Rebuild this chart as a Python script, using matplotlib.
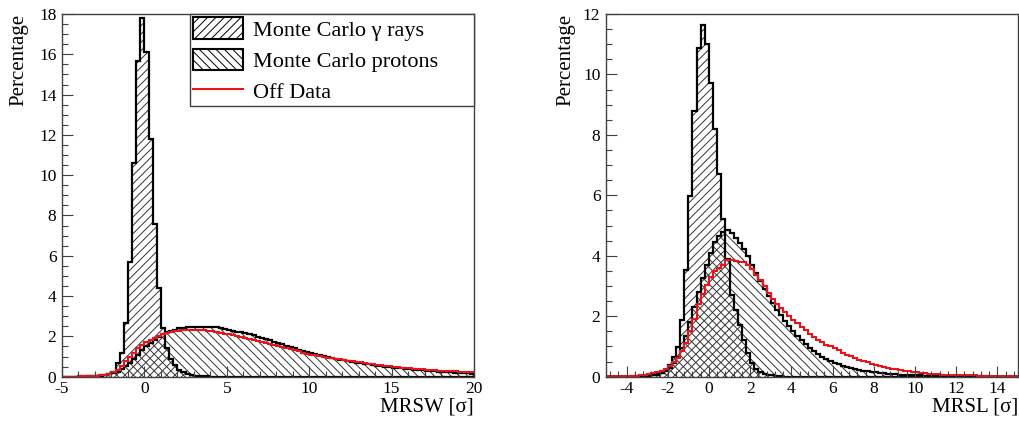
import numpy as np
import matplotlib
matplotlib.use("Agg")
import matplotlib.pyplot as plt
from matplotlib.patches import Patch
from matplotlib.lines import Line2D
from matplotlib.ticker import MultipleLocator

plt.rcParams["font.family"] = ["Liberation Serif", "DejaVu Serif"]
plt.rcParams["axes.unicode_minus"] = False
plt.rcParams["hatch.linewidth"] = 0.7

# MRSW histogram: bins of 0.25 from -5 to 20 (percent per bin)
mrsw_edges = np.arange(-5, 20.001, 0.25)
mrsw_gamma = [0, 0, 0, 0, 0, 0, 0.01, 0.01, 0.02, 0.03,
              0.06, 0.12, 0.25, 0.66, 1.16, 2.65, 5.7, 10.6, 15.65, 17.8,
              16.1, 11.8, 7.6, 4.4, 2.4, 1.4, 0.9, 0.58, 0.35, 0.22,
              0.13, 0.08, 0.05, 0.03, 0.02, 0.01, 0, 0, 0, 0,
              0, 0, 0, 0, 0, 0, 0, 0, 0, 0,
              0, 0, 0, 0, 0, 0, 0, 0, 0, 0,
              0, 0, 0, 0, 0, 0, 0, 0, 0, 0,
              0, 0, 0, 0, 0, 0, 0, 0, 0, 0,
              0, 0, 0, 0, 0, 0, 0, 0, 0, 0,
              0, 0, 0, 0, 0, 0, 0, 0, 0, 0]
mrsw_proton = [0, 0, 0, 0, 0.01, 0.01, 0.02, 0.03, 0.04, 0.06,
               0.09, 0.13, 0.18, 0.25, 0.38, 0.52, 0.7, 0.9, 1.1, 1.3,
               1.5, 1.68, 1.82, 1.98, 2.1, 2.2, 2.28, 2.34, 2.4, 2.43,
               2.45, 2.46, 2.47, 2.48, 2.47, 2.48, 2.49, 2.45, 2.42, 2.38,
               2.32, 2.28, 2.24, 2.2, 2.15, 2.1, 2.05, 1.99, 1.92, 1.86,
               1.8, 1.73, 1.66, 1.6, 1.53, 1.46, 1.4, 1.34, 1.28, 1.22,
               1.16, 1.11, 1.06, 1.01, 0.97, 0.93, 0.89, 0.85, 0.81, 0.77,
               0.73, 0.7, 0.67, 0.64, 0.61, 0.58, 0.55, 0.52, 0.5, 0.47,
               0.45, 0.43, 0.41, 0.39, 0.37, 0.35, 0.33, 0.31, 0.29, 0.28,
               0.26, 0.25, 0.23, 0.22, 0.21, 0.2, 0.18, 0.17, 0.16, 0.15]
mrsw_off = [0, 0, 0, 0, 0.01, 0.01, 0.02, 0.03, 0.04, 0.06,
            0.09, 0.14, 0.22, 0.35, 0.55, 0.78, 1.0, 1.2, 1.4, 1.56,
            1.7, 1.82, 1.93, 2.02, 2.1, 2.16, 2.21, 2.25, 2.28, 2.3,
            2.31, 2.32, 2.32, 2.31, 2.3, 2.28, 2.25, 2.22, 2.18, 2.14,
            2.1, 2.06, 2.02, 1.98, 1.93, 1.89, 1.84, 1.79, 1.74, 1.68,
            1.63, 1.57, 1.52, 1.46, 1.41, 1.35, 1.3, 1.25, 1.2, 1.15,
            1.1, 1.06, 1.02, 0.98, 0.95, 0.92, 0.89, 0.86, 0.83, 0.8,
            0.77, 0.74, 0.71, 0.68, 0.65, 0.62, 0.59, 0.56, 0.54, 0.51,
            0.49, 0.47, 0.45, 0.43, 0.41, 0.39, 0.37, 0.36, 0.34, 0.33,
            0.31, 0.3, 0.29, 0.28, 0.27, 0.26, 0.25, 0.24, 0.23, 0.22]

# MRSL histogram: bins of 0.2 from -5 to 15
mrsl_edges = np.arange(-5, 15.001, 0.2)
mrsl_gamma = [0, 0, 0, 0, 0, 0, 0, 0, 0.01, 0.01,
              0.02, 0.04, 0.07, 0.12, 0.22, 0.39, 0.66, 0.99, 1.88, 3.53,
              5.99, 8.8, 10.87, 11.64, 11.0, 9.73, 8.19, 6.7, 5.21, 3.9,
              2.7, 2.2, 1.71, 1.21, 0.77, 0.44, 0.27, 0.16, 0.1, 0.06,
              0.04, 0.02, 0.01, 0, 0, 0, 0, 0, 0, 0,
              0, 0, 0, 0, 0, 0, 0, 0, 0, 0,
              0, 0, 0, 0, 0, 0, 0, 0, 0, 0,
              0, 0, 0, 0, 0, 0, 0, 0, 0, 0,
              0, 0, 0, 0, 0, 0, 0, 0, 0, 0,
              0, 0, 0, 0, 0, 0, 0, 0, 0, 0]
mrsl_proton = [0, 0, 0, 0, 0, 0, 0.01, 0.01, 0.02, 0.03,
               0.04, 0.06, 0.09, 0.13, 0.2, 0.3, 0.45, 0.65, 0.95, 1.35,
               1.8, 2.3, 2.8, 3.25, 3.7, 4.1, 4.45, 4.65, 4.78, 4.85,
               4.75, 4.6, 4.42, 4.22, 4.0, 3.7, 3.42, 3.15, 2.9, 2.66,
               2.43, 2.22, 2.03, 1.85, 1.68, 1.5, 1.35, 1.2, 1.07, 0.95,
               0.84, 0.74, 0.66, 0.58, 0.52, 0.46, 0.41, 0.36, 0.32, 0.28,
               0.25, 0.22, 0.2, 0.18, 0.16, 0.14, 0.12, 0.11, 0.1, 0.09,
               0.08, 0.07, 0.06, 0.05, 0.05, 0.04, 0.04, 0.03, 0.03, 0.03,
               0.02, 0.02, 0.02, 0.02, 0.02, 0.01, 0.01, 0.01, 0.01, 0.01,
               0.01, 0.01, 0.01, 0, 0, 0, 0, 0, 0, 0]
mrsl_off = [0.01, 0.01, 0.01, 0.01, 0.01, 0.02, 0.02, 0.03, 0.04, 0.06,
            0.08, 0.11, 0.15, 0.2, 0.27, 0.35, 0.48, 0.62, 0.85, 1.1,
            1.5, 1.9, 2.4, 2.75, 3.05, 3.3, 3.5, 3.6, 3.7, 3.87,
            3.86, 3.82, 3.8, 3.78, 3.7, 3.55, 3.38, 3.2, 3.0, 2.78,
            2.56, 2.42, 2.28, 2.14, 2.0, 1.88, 1.76, 1.64, 1.53, 1.42,
            1.32, 1.23, 1.14, 1.06, 1.0, 0.94, 0.87, 0.8, 0.73, 0.67,
            0.61, 0.56, 0.51, 0.47, 0.43, 0.39, 0.36, 0.32, 0.29, 0.26,
            0.24, 0.22, 0.2, 0.18, 0.16, 0.14, 0.13, 0.12, 0.1, 0.09,
            0.08, 0.07, 0.07, 0.06, 0.06, 0.05, 0.05, 0.04, 0.04, 0.04,
            0.03, 0.03, 0.03, 0.03, 0.02, 0.02, 0.02, 0.02, 0.02, 0.02]

labels = ["Monte Carlo γ rays", "Monte Carlo protons", "Off Data"]
red = "#e8141c"

fig = plt.figure(figsize=(10.2, 4.23), dpi=100)
ax1 = fig.add_axes([0.0608, 0.1095, 0.4039, 0.8574])
ax2 = fig.add_axes([0.5941, 0.1095, 0.4039, 0.8574])


def draw_hists(ax, edges, gamma, proton, off):
    ax.stairs(gamma, edges, fill=True, facecolor="none", edgecolor="0.2",
              hatch="////", linewidth=0)
    ax.stairs(proton, edges, fill=True, facecolor="none", edgecolor="0.2",
              hatch="\\\\\\\\", linewidth=0)
    ax.stairs(gamma, edges, baseline=0, color="black", lw=1.6)
    ax.stairs(proton, edges, baseline=0, color="black", lw=1.6)
    ax.stairs(off, edges, baseline=None, color=red, lw=1.5)


def style(ax, xmaj, xmin, ymax, xlabel, ylx):
    for s in ax.spines.values():
        s.set_linewidth(1.0)
        s.set_color("0.25")
    ax.set_ylim(0, ymax)
    ax.xaxis.set_major_locator(MultipleLocator(xmaj))
    ax.xaxis.set_minor_locator(MultipleLocator(xmin))
    ax.yaxis.set_major_locator(MultipleLocator(2))
    ax.yaxis.set_minor_locator(MultipleLocator(0.5))
    ax.tick_params(which="both", direction="in", top=False, right=False,
                   labelsize=12.5, width=0.8, color="0.25")
    ax.tick_params(which="major", length=8)
    ax.tick_params(axis="x", which="major", pad=3)
    ax.tick_params(axis="y", which="major", pad=4)
    ax.tick_params(which="minor", length=4.5)
    ax.set_xlabel(xlabel, fontsize=15, loc="right")
    ax.xaxis.set_label_coords(1.0, -0.058)
    ax.set_ylabel("Percentage", fontsize=15, loc="top")
    ax.yaxis.set_label_coords(ylx, 1.0)


draw_hists(ax1, mrsw_edges, mrsw_gamma, mrsw_proton, mrsw_off)
ax1.set_xlim(-5, 20)
style(ax1, 5, 1, 18, "MRSW [σ]", -0.082)

draw_hists(ax2, mrsl_edges, mrsl_gamma, mrsl_proton, mrsl_off)
ax2.set_xlim(-5, 15)
style(ax2, 2, 0.4, 12, "MRSL [σ]", -0.075)

handles = [Patch(facecolor="white", edgecolor="black", hatch="////", lw=1.5),
           Patch(facecolor="white", edgecolor="black", hatch="\\\\\\\\", lw=1.5),
           Line2D([], [], color=red, lw=1.5)]
leg = ax1.legend(handles, labels, loc="upper left", mode="expand",
                 bbox_to_anchor=(0.31, 0.0, 0.69, 1.0), borderaxespad=0,
                 fontsize=16, handlelength=2.25, handleheight=1.1,
                 handletextpad=0.45, labelspacing=0.36, borderpad=0.15,
                 fancybox=False, framealpha=1)
leg.get_frame().set_edgecolor("0.25")
leg.get_frame().set_linewidth(1.0)

fig.savefig("out.png", dpi=100)
